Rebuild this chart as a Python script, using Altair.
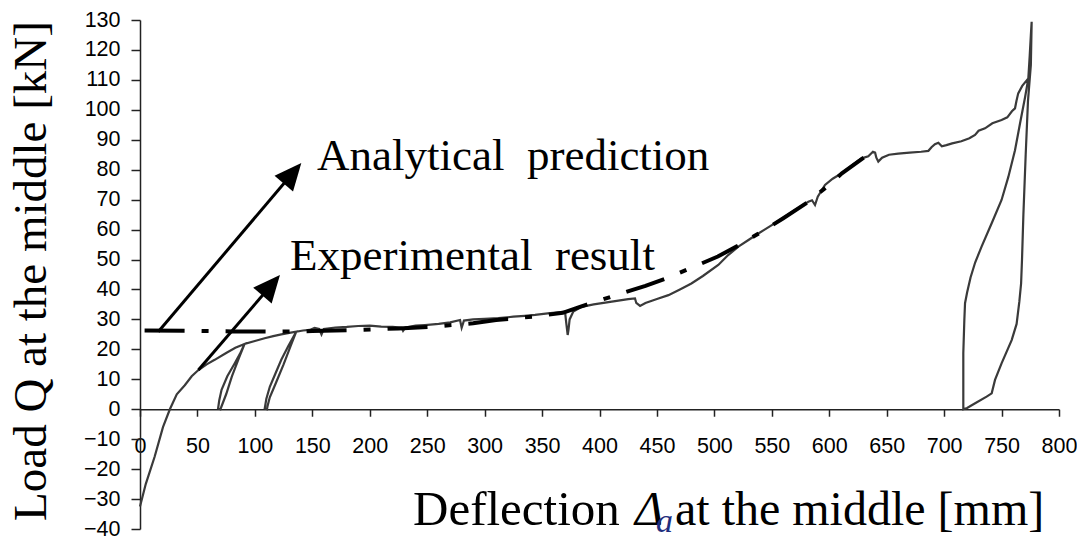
import altair as alt
import pandas as pd

# ---------------- data ----------------
exp_x = [0, 5, 12.8, 20, 26, 32, 39, 45, 50.6, 58, 65, 75, 83, 91,
         86, 80, 75, 71, 70, 68, 69, 71, 76, 82, 87, 91,
         100, 108.5, 116, 123, 130, 136,
         131, 125, 118, 113, 111, 110.5, 108.6, 110, 113, 118, 123, 129, 136,
         142, 147.7, 152, 156, 158, 160, 170, 180, 190, 200, 210, 220, 227.8, 229, 231,
         240, 248, 260, 270, 278.6, 280, 282, 290, 300, 312, 325, 335, 343.9, 355, 370,
         371, 372.3, 373, 374, 377.2, 384.4, 395, 405, 415, 425, 430.9, 432, 435.3, 440,
         450, 460, 470, 480, 490, 503.4, 512, 520.9, 530, 538.3, 550, 560, 570, 581.8,
         585, 587.6, 590, 596.3, 603, 610.8, 620, 628.2, 634, 638, 639.9, 641, 642.7,
         646, 652, 660, 670, 680, 686.3, 689, 692, 695, 698, 702, 707, 715, 722, 726.9,
         730, 735.6, 742, 750, 755, 759, 761.7, 763, 764.5, 768, 773.3,
         774.5, 775.5, 776.2, 775.5, 773, 771, 769, 767.8, 767, 765.5, 763.1, 758.8,
         750, 744.3, 741.4, 737, 727, 720, 716.7,
         716.7, 717.6, 718.2, 720, 723, 727, 732.6, 741.4, 750, 755.9, 761.7, 766.1,
         770.5, 773.3]
exp_y = [-32.5, -25, -15.8, -6, 0, 5, 8, 11, 13, 15, 16.5, 18.8, 20.5, 21.8,
         17, 11, 5, 1, 0, 0.3, 3, 6.5, 11, 15, 18.5, 21.8,
         22.8, 23.7, 24.4, 25, 25.5, 25.9,
         21, 15, 8.5, 4, 1, 0, 0.3, 3.5, 7.5, 12, 16.5, 21, 25.9,
         26.3, 26.5, 27.2, 26.8, 25, 26.8, 27.3, 27.5, 27.8, 27.9, 27.6, 27.5, 27.2, 26.2, 27.3,
         27.9, 28.1, 28.5, 29, 29.8, 27.2, 29.6, 30, 30.2, 30.4, 30.9, 31.2, 31.5, 32, 32.6,
         29, 24.8, 26.5, 30, 32.6, 34.2, 35, 35.6, 36.2, 36.8, 37, 35.5, 34.5, 35.5,
         36.8, 38.1, 40, 42, 44.5, 48.2, 51.5, 54.3, 56.6, 58.7, 61.5, 64, 66.5, 69.3,
         69.8, 68.2, 71, 74.9, 77, 78.8, 81.5, 83.8, 84.5, 86, 85.7, 84, 82.7,
         84, 85, 85.4, 85.7, 86, 86.3, 87.5, 88.5, 89, 87.8, 88.2, 88.8, 89.5, 90.5, 91.6,
         93, 93.8, 95.5, 96.6, 97.5, 99.5, 100.5, 103, 105.5, 108, 110.5,
         118, 125, 129.4, 115, 103, 85, 65, 50, 42, 36, 28.5, 23.1,
         15.3, 9.8, 5.3, 4.2, 2, 0.4, 0,
         18.7, 29.8, 35.4, 39, 44, 49, 54.3, 62.1, 69.9, 77.6, 86.5, 95.5,
         104.3, 110.5]

ana_x = [4, 40, 80, 120, 150, 190, 225, 255, 290, 310, 344, 368, 383, 424, 440,
         460, 503, 520, 540, 560, 582, 600, 611, 630]
ana_y = [26.3, 26.2, 26.0, 25.9, 26.1, 26.5, 27.0, 27.6, 28.7, 29.8, 31.0, 32.2,
         34.2, 39.3, 41.2, 44.0, 51.0, 54.5, 59.0, 63.8, 69.3, 75.0, 78.8, 84.0]

x_ticks = list(range(0, 801, 50))
y_ticks = list(range(-40, 131, 10))

arrow_start_x = [15.9, 50.8]
arrow_start_y = [25.9, 13.1]
arrow_head_x = [132.8, 114.2]
arrow_head_y = [78.8, 41.4]

annotations = ["Analytical\u00a0 prediction", "Experimental\u00a0 result"]
y_title = "Load Q at the middle [kN]"
x_title_parts = ["Deflection", "\u0394", "a", "at the middle [mm]"]

# ---------------- tables ----------------
exp_df = pd.DataFrame({"x": exp_x, "y": exp_y, "i": range(len(exp_x))})
ana_df = pd.DataFrame({"x": ana_x, "y": ana_y, "i": range(len(ana_x))})
arr_df = pd.DataFrame({"x": arrow_start_x, "y": arrow_start_y,
                       "x2": arrow_head_x, "y2": arrow_head_y})
head_df = pd.DataFrame({"x": arrow_head_x, "y": arrow_head_y})

xs = alt.Scale(domain=[0, 800], nice=False, zero=False)
ys = alt.Scale(domain=[-40, 130], nice=False, zero=False)
W, H = 919, 509
y0_px = H * 130 / 170.0

xaxis = alt.Axis(values=x_ticks, title=None, offset=-(H - y0_px), tickSize=7,
                 labelPadding=19, labelFlush=False, labelOverlap=False, grid=False)
yaxis = alt.Axis(values=y_ticks, title=None, tickSize=9, labelPadding=11,
                 labelOverlap=False, grid=False)

X = alt.X("x:Q", scale=xs, axis=xaxis)
Y = alt.Y("y:Q", scale=ys, axis=yaxis)

exp_line = alt.Chart(exp_df).mark_line(color="#3a3a3a", strokeWidth=2.2).encode(
    x=X, y=Y, order="i:Q")

ana_line = alt.Chart(ana_df).mark_line(color="black", strokeWidth=4,
                                       strokeDash=[40, 17, 7, 17]).encode(
    x=X, y=Y, order="i:Q")

arrows = alt.Chart(arr_df).mark_rule(color="black", strokeWidth=3).encode(
    x=X, y=Y, x2="x2:Q", y2="y2:Q")

heads = alt.Chart(head_df).mark_point(
    shape="M0,-1L0.9,1L-0.9,1Z", filled=True, size=729, color="black",
    opacity=1, angle=40.5, strokeWidth=0).encode(x=X, y=Y)

one = pd.DataFrame({"k": [0]})
serif = "Liberation Serif"


def txt(t, x, y, size, **kw):
    return alt.Chart(one).mark_text(text=t, font=serif, fontSize=size,
                                    color=kw.pop("color", "black"), **kw).encode(
        x=alt.value(x), y=alt.value(y))


ann1 = txt(annotations[0], 177, 150, 45, align="left", baseline="alphabetic")
ann2 = txt(annotations[1], 150, 250, 45, align="left", baseline="alphabetic")
ytit = txt(y_title, -94, 251, 47, align="center", baseline="alphabetic", angle=270)
xt1 = txt(x_title_parts[0], 273, 505, 49, align="left", baseline="alphabetic")
xt2 = txt(x_title_parts[1], 495, 505, 48, align="left", baseline="alphabetic",
          fontStyle="italic")
xt3 = txt(x_title_parts[2], 516, 512, 34, align="left", baseline="alphabetic",
          fontStyle="italic", color="#1f2f7f")
xt4 = txt(x_title_parts[3], 535, 505, 48, align="left", baseline="alphabetic")

chart = alt.layer(exp_line, ana_line, arrows, heads, ann1, ann2, ytit,
                  xt1, xt2, xt3, xt4).properties(
    width=W, height=H,
    padding={"left": 132, "top": 12, "right": 18, "bottom": 9},
    autosize=alt.AutoSizeParams(type="none"),
    background="white",
).configure_axis(
    labelFont="Liberation Sans", labelFontSize=21.5, labelColor="black",
    domainColor="#222222", tickColor="#222222", domainWidth=1.5, tickWidth=1.5,
).configure_view(strokeWidth=0)

chart.save("out.html", embed_options={"renderer": "svg", "actions": False})
